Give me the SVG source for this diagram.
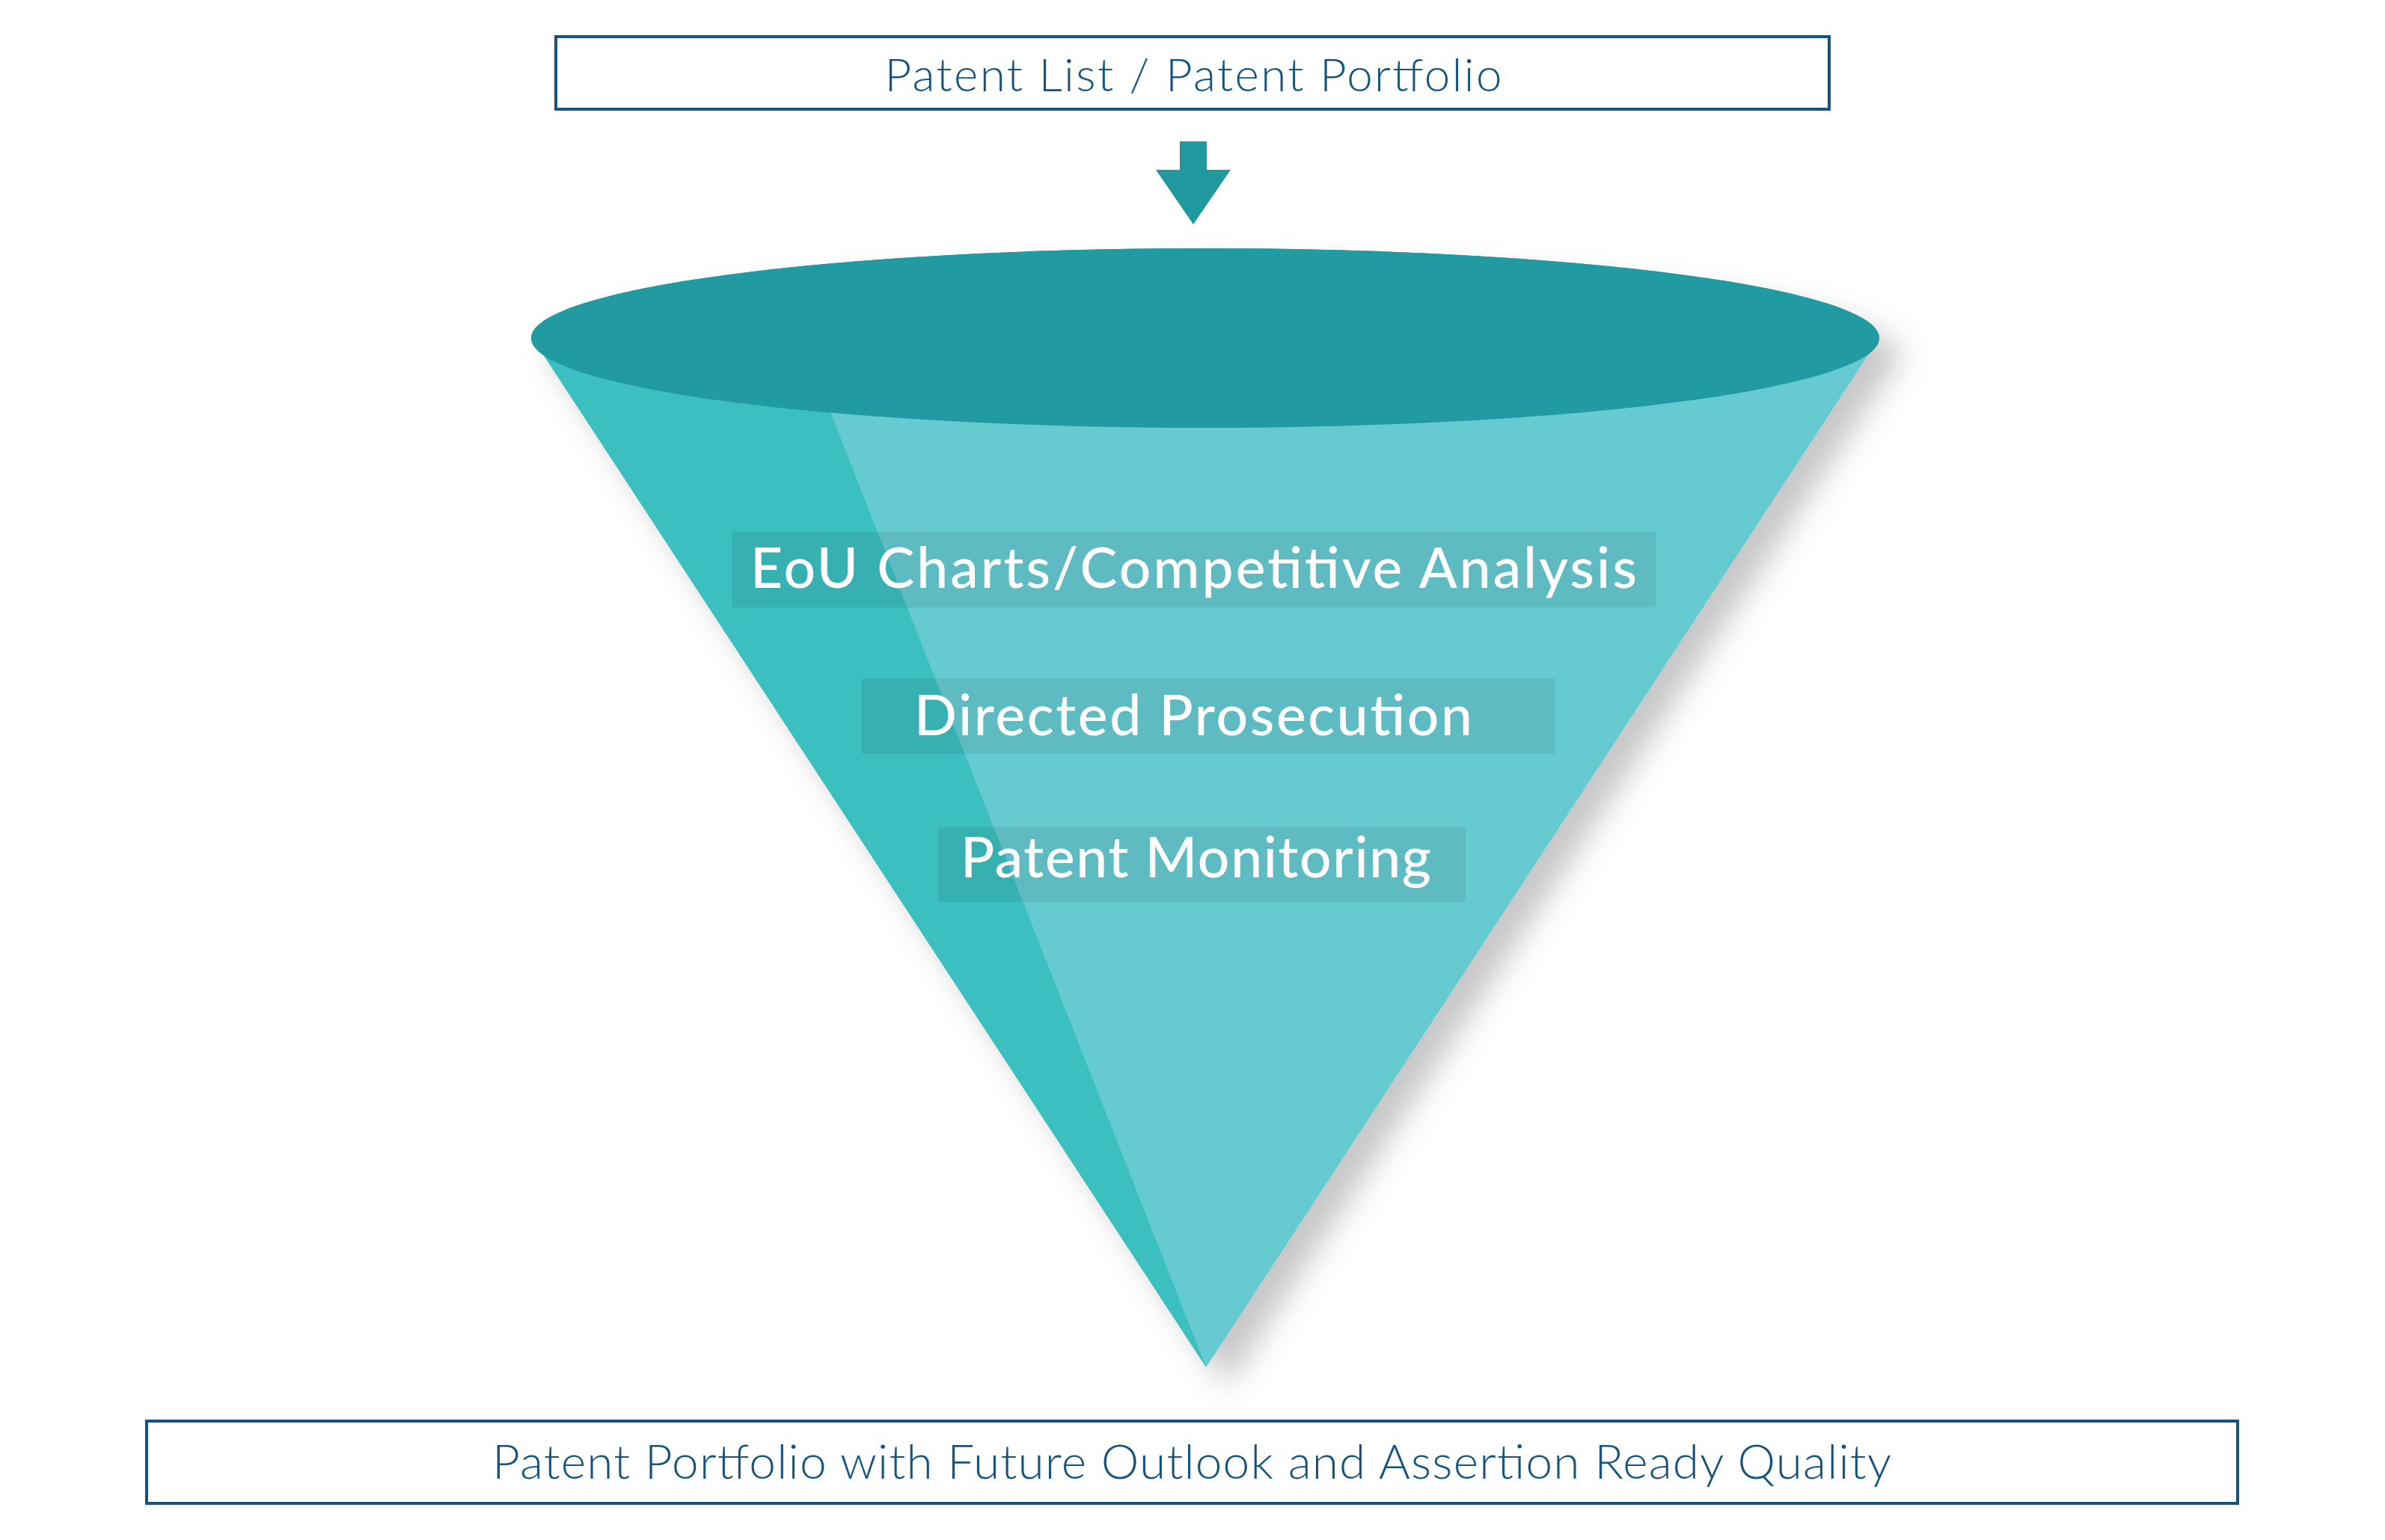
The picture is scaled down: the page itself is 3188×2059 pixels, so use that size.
<svg xmlns="http://www.w3.org/2000/svg" width="3188" height="2059" viewBox="0 0 3188 2059">
<style>
.box{fill:#fff;stroke:#15547f;stroke-width:4}
.btxt{font-family:Lato,"Open Sans","Liberation Sans",sans-serif;font-weight:300;fill:#15547f;text-anchor:middle}
.lbl{fill:#000;fill-opacity:0.075}
.ltxt{font-family:Lato,"Open Sans","Liberation Sans",sans-serif;font-weight:500;fill:#fff}
</style>
<defs>
<filter id="sh" x="-20%" y="-20%" width="140%" height="140%">
<feDropShadow dx="28" dy="26" stdDeviation="20" flood-color="#000" flood-opacity="0.22"/>
</filter>
</defs>
<rect width="3188" height="2059" fill="#fff"/>
<g id="top-box">
<rect class="box" x="743" y="49" width="1702" height="97"/>
<text class="btxt" x="1595" y="122" font-size="62" textLength="825">Patent List / Patent Portfolio</text>
</g>
<g id="connectors">
<path d="M1577 189H1613V227H1645L1595 300L1545 227H1577Z" fill="#20999f"/>
</g>
<g id="funnel">
<g filter="url(#sh)">
<path d="M718 462L2505 462L1612 1828Z" fill="#3bbfbf"/>
<ellipse cx="1611" cy="452" rx="901" ry="120" fill="#219aa1"/>
</g>
<path d="M1082 480L2505 462L1612 1828Z" fill="#66cad1"/>
<ellipse cx="1611" cy="452" rx="901" ry="120" fill="#219aa1"/>
</g>
<g id="eou">
<rect class="lbl" x="979" y="711" width="1234" height="101"/>
<text class="ltxt" x="1003" y="786" font-size="75" textLength="1185">EoU Charts/Competitive Analysis</text>
</g>
<g id="directed">
<rect class="lbl" x="1152" y="907" width="926" height="101"/>
<text class="ltxt" x="1222" y="983" font-size="75" textLength="746">Directed Prosecution</text>
</g>
<g id="monitoring">
<rect class="lbl" x="1254" y="1106" width="705" height="100"/>
<text class="ltxt" x="1284" y="1173" font-size="75" textLength="629">Patent Monitoring</text>
</g>
<g id="bottom-box">
<rect class="box" x="196" y="1900" width="2795" height="110"/>
<text class="btxt" x="1593" y="1977" font-size="64" textLength="1870">Patent Portfolio with Future Outlook and Assertion Ready Quality</text>
</g>
</svg>
